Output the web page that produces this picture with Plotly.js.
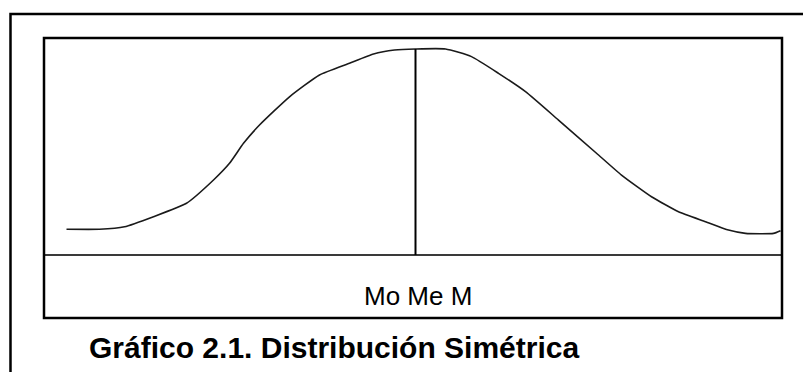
<!DOCTYPE html>
<html>
<head>
<meta charset="utf-8">
<script src="https://cdn.plot.ly/plotly-3.0.1.min.js"></script>
<style>
  html, body { margin: 0; padding: 0; background: #ffffff; }
  #chart { width: 803px; height: 372px; }
</style>
</head>
<body>
<div id="chart"></div>
<script>
// Curve (x relative to the mode, y relative to peak = 100)
const curveX = [-34.9, -31.6, -29.1, -26.2, -22.9, -20.2, -18.6, -17.2, -15.6, -12.6, -9.6, -6.6, -4.2, -2.1, 0, 3.0, 5.6, 8.3, 11.0, 14.3, 18.1, 20.6, 23.6, 26.3, 29.0, 31.3, 33.0, 35.8, 36.5];
const curveY = [12.5, 12.5, 13.7, 18.6, 25.1, 36.4, 44.5, 54.2, 63.1, 76.8, 87.4, 93.1, 97.6, 99.5, 100, 100, 96.3, 88.2, 79.3, 65.5, 49.4, 38.8, 28.3, 21.0, 16.2, 12.1, 10.5, 10.5, 11.8];
const centerX = [0, 0];
const centerY = [0, 100];
const centerLabel = "Mo Me M";
const chartTitle = "Gráfico 2.1. Distribución Simétrica";

const font = "Liberation Sans, Arial, Helvetica, sans-serif";

const traces = [
  {
    x: curveX, y: curveY, type: "scatter", mode: "lines",
    line: { color: "#1a1a1a", width: 1.6, shape: "spline", smoothing: 0.5 },
    hoverinfo: "skip"
  },
  {
    x: centerX, y: centerY, type: "scatter", mode: "lines",
    line: { color: "#000000", width: 2 },
    hoverinfo: "skip"
  }
];

const layout = {
  width: 803, height: 372,
  margin: { l: 44, r: 21, t: 38, b: 54, pad: 0 },
  paper_bgcolor: "#ffffff", plot_bgcolor: "#ffffff",
  showlegend: false,
  xaxis: {
    range: [-37.15, 36.65], showgrid: false, zeroline: false,
    showticklabels: false, ticks: "", showline: false, fixedrange: true
  },
  yaxis: {
    range: [-30.58, 105.34], showgrid: false, zeroline: true,
    zerolinecolor: "#3a3a3a", zerolinewidth: 2,
    showticklabels: false, ticks: "", showline: false, fixedrange: true
  },
  shapes: [
    { type: "rect", xref: "paper", yref: "paper", x0: 0, x1: 1, y0: 0, y1: 1,
      line: { color: "#000000", width: 2.5 }, fillcolor: "rgba(0,0,0,0)" },
    { type: "rect", xref: "paper", yref: "paper", x0: -0.0454, x1: 1.2, y0: -0.35, y1: 1.0857,
      line: { color: "#000000", width: 2.5 }, fillcolor: "rgba(0,0,0,0)" }
  ],
  annotations: [
    { text: centerLabel, xref: "x", yref: "y", x: 0, y: -19.9, xshift: 2,
      xanchor: "center", yanchor: "middle", showarrow: false,
      font: { family: font, size: 26, color: "#000000" } },
    { text: "<b>" + chartTitle + "</b>", xref: "paper", yref: "paper",
      x: 0.0583, y: -0.1036, xanchor: "left", yanchor: "middle", showarrow: false,
      font: { family: font, size: 30, color: "#000000" } }
  ]
};

Plotly.newPlot("chart", traces, layout, { staticPlot: true, displayModeBar: false });
</script>
</body>
</html>
